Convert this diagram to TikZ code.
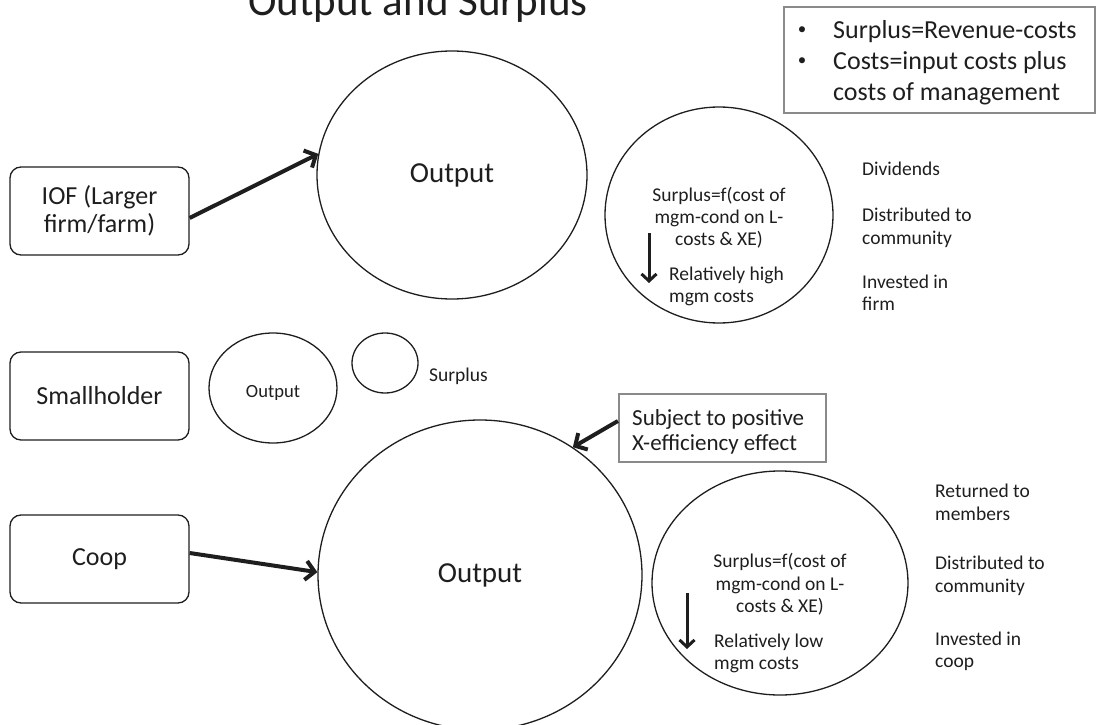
\documentclass[tikz,border=0pt]{standalone}
\usepackage{fontspec}
\setmainfont{Carlito}
\usetikzlibrary{shapes.geometric,arrows.meta}
\definecolor{ink}{HTML}{1E1E1E}
\definecolor{frame}{HTML}{8A8A8A}
\begin{document}
\begin{tikzpicture}[x=1pt,y=-1pt,
  ent/.style={draw=ink, rounded corners=11pt, line width=1.3pt, minimum width=179pt, minimum height=88pt, align=center, inner sep=0pt, font=\fontsize{26}{28}\selectfont, text=ink},
  oval/.style={draw=ink, ellipse, line width=1.3pt, inner sep=0pt, text=ink},
  graybox/.style={draw=frame, line width=2.2pt, inner sep=0pt},
  bigarrow/.style={-{Straight Barb[length=9pt,width=19pt]}, line width=4pt, draw=ink},
  downarrow/.style={-{Straight Barb[length=7pt,width=15pt]}, line width=3pt, draw=ink},
  small/.style={font=\fontsize{19.5}{22}\selectfont, text=ink, inner sep=0pt},
  mid/.style={font=\fontsize{23}{26}\selectfont, text=ink, inner sep=0pt},
  note/.style={font=\fontsize{26}{31}\selectfont, text=ink, inner sep=0pt},
  bul/.style={font=\fontsize{17}{20}\selectfont, text=ink, inner sep=0pt}
]
\useasboundingbox (0,0) rectangle (1096,725);

% title
\node[anchor=base, font=\fontsize{43}{48}\selectfont, text=ink, inner sep=0pt] (title) at (418,16) {Output and Surplus};

% definition box
\node[graybox, minimum width=311pt, minimum height=106pt] (defbox) at (939.5,60) {};
\node[bul, anchor=base] (b1) at (802,35) {•};
\node[note, anchor=base west] (d1) at (833,39) {Surplus=Revenue-costs};
\node[bul, anchor=base] (b2) at (802,66) {•};
\node[note, anchor=base west] (d2) at (833,70) {Costs=input costs plus};
\node[note, anchor=base west] (d3) at (833,101) {costs of management};

% left boxes
\node[ent] (iof) at (99.5,211) {IOF (Larger\\firm/farm)};
\node[ent] (small) at (99.5,396) {Smallholder};
\node[ent] (coop) at (99.5,559) {Coop};

% top row
\node[oval, minimum width=270pt, minimum height=248pt, font=\fontsize{29}{32}\selectfont] (out1) at (452,175) {Output};
\node[oval, minimum width=228pt, minimum height=216pt] (sur1) at (719,215) {};
\node[small, anchor=base] (s1a) at (719,201) {Surplus=f(cost of};
\node[small, anchor=base] (s1b) at (719,223) {mgm-cond on L-};
\node[small, anchor=base] (s1c) at (719,245) {costs \& XE)};
\node[small, anchor=base west] (s1d) at (669,280) {Relatively high};
\node[small, anchor=base west] (s1e) at (669,302) {mgm costs};
\coordinate (a1s) at (649,233);
\coordinate (a1e) at (649,283);
\draw[downarrow] (a1s) -- (a1e);
\node[small, anchor=base west] (r1a) at (862,175) {Dividends};
\node[small, anchor=base west] (r1b) at (862,221) {Distributed to};
\node[small, anchor=base west] (r1c) at (862,244) {community};
\node[small, anchor=base west] (r1d) at (862,288) {Invested in};
\node[small, anchor=base west] (r1e) at (862,310) {firm};
\draw[bigarrow] ([yshift=-7pt]iof.east) -- (out1.171);

% smallholder row
\node[oval, minimum width=128pt, minimum height=110pt] (out0) at (273,388) {};
\node[anchor=base, font=\fontsize{18.6}{20}\selectfont, text=ink, inner sep=0pt] (out0t) at (273,397) {Output};
\node[oval, minimum width=66pt, minimum height=60pt] (sur0) at (385,363) {};
\node[small, anchor=base west] (sur0t) at (429,381) {Surplus};

% bottom row
\node[oval, minimum width=324pt, minimum height=310pt, font=\fontsize{29}{32}\selectfont] (out2) at (480,575) {Output};
\node[graybox, minimum width=207pt, minimum height=68pt] (subj) at (722.5,428) {};
\node[mid, anchor=base west] (subja) at (632,425) {Subject to positive};
\node[mid, anchor=base west] (subjb) at (632,450) {X-efficiency effect};
\draw[bigarrow] ([yshift=7pt]subj.west) -- (out2.54);
\draw[bigarrow] ([yshift=6pt]coop.east) -- (out2.179);

\node[oval, minimum width=256pt, minimum height=224pt] (sur2) at (780,583) {};
\node[small, anchor=base] (s2a) at (780,567) {Surplus=f(cost of};
\node[small, anchor=base] (s2b) at (780,590) {mgm-cond on L-};
\node[small, anchor=base] (s2c) at (780,612) {costs \& XE)};
\node[small, anchor=base west] (s2d) at (714,647) {Relatively low};
\node[small, anchor=base west] (s2e) at (714,669) {mgm costs};
\coordinate (a2s) at (687,593);
\coordinate (a2e) at (687,649);
\draw[downarrow] (a2s) -- (a2e);
\node[small, anchor=base west] (r2a) at (935,497) {Returned to};
\node[small, anchor=base west] (r2b) at (935,520) {members};
\node[small, anchor=base west] (r2c) at (935,569) {Distributed to};
\node[small, anchor=base west] (r2d) at (935,592) {community};
\node[small, anchor=base west] (r2e) at (935,645) {Invested in};
\node[small, anchor=base west] (r2f) at (935,667) {coop};
\end{tikzpicture}
\end{document}
